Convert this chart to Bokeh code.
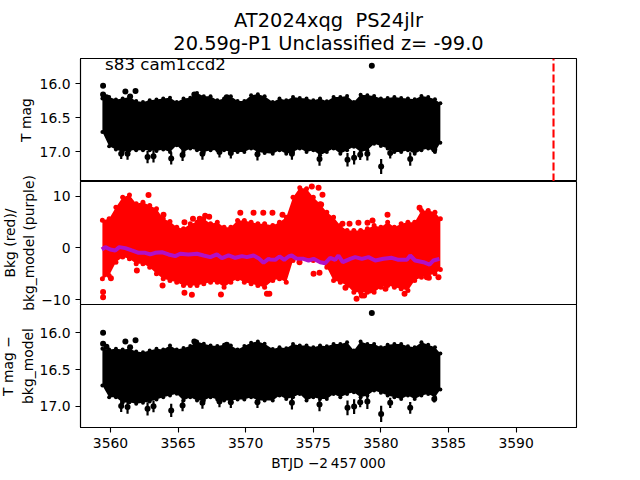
from bokeh.embed import file_html
from bokeh.resources import INLINE
from bokeh.plotting import figure
from bokeh.layouts import column
from bokeh.models import Range1d, FixedTicker, Title
from bokeh.core.properties import value

TITLE_LINES = ["AT2024xqg \u00a0PS24jlr", "20.59g-P1 Unclassified z= -99.0"]
NOTE = "s83 cam1ccd2"
XLABEL = "BTJD \u22122\u2009457\u2009000"
X_TICKS = [3560, 3565, 3570, 3575, 3580, 3585, 3590]
EVENT_DAY = 3592.77

DAYS = [3559.4, 3559.9, 3560.4, 3560.9, 3561.4, 3561.9, 3562.4, 3562.9, 3563.4, 3563.9,
        3564.4, 3564.9, 3565.4, 3565.9, 3566.4, 3566.9, 3567.4, 3567.9, 3568.4, 3568.9,
        3569.4, 3569.9, 3570.4, 3570.9, 3571.4,
        3572.0, 3572.5, 3573.0, 3573.5, 3574.0, 3574.5, 3575.0, 3575.5, 3576.0, 3576.5,
        3577.0, 3577.5, 3578.0, 3578.5, 3579.0, 3579.5, 3580.0, 3580.5, 3581.0, 3581.5,
        3582.0, 3582.5, 3583.0, 3583.5, 3584.0, 3584.4]

# --- top panel: T mag, extent of the dense error bars
TMAG_UPPER = [16.22, 16.196, 16.235, 16.22, 16.196, 16.255, 16.27, 16.245, 16.235, 16.22,
              16.206, 16.27, 16.22, 16.206, 16.137, 16.186, 16.186, 16.245, 16.22, 16.186,
              16.255, 16.255, 16.17, 16.157, 16.186,
              16.27, 16.22, 16.246, 16.197, 16.21, 16.22, 16.246, 16.22, 16.26, 16.197,
              16.197, 16.18, 16.27, 16.162, 16.172, 16.18, 16.22, 16.21, 16.197, 16.21,
              16.22, 16.23, 16.18, 16.197, 16.23, 16.29]
TMAG_LOWER = [16.71, 16.92, 16.97, 17.005, 16.98, 16.98, 16.98, 16.98, 16.99, 16.97,
              17.005, 16.907, 17.005, 16.956, 16.98, 17.005, 16.98, 16.98, 16.98, 17.005,
              17.005, 17.005, 16.956, 17.005, 17.02,
              17.03, 16.98, 17.03, 17.005, 16.956, 17.005, 16.98, 17.055, 17.005, 16.956,
              17.03, 16.98, 16.93, 17.005, 16.98, 16.883, 16.917, 16.956, 17.005, 17.005,
              16.98, 17.03, 16.98, 16.956, 17.005, 16.87]
# points standing clear of the dense band
OUT_DAYS = [3559.45, 3559.45, 3559.7, 3561.1, 3561.45, 3561.85, 3566.2, 3568.6,
            3560.79, 3561.26, 3562.74, 3563.18, 3564.49, 3565.33, 3566.8, 3568.06, 3568.9, 3570.87,
            3573.42, 3575.46, 3577.53, 3578.02, 3578.47, 3579.0, 3580.02, 3580.69, 3582.17, 3583.95,
            3579.33]
TMAG_OUT = [16.03, 16.16, 16.2, 16.115, 16.19, 16.11, 16.16, 16.2,
            17.03, 17.03, 17.08, 17.07, 17.10, 17.05, 17.03, 17.005, 17.02, 17.04,
            17.03, 17.11, 17.12, 17.09, 17.045, 17.03, 17.22, 17.02, 17.11, 16.97,
            15.735]
TMAG_ERR = [0.03, 0.03, 0.03, 0.03, 0.03, 0.03, 0.03, 0.03,
            0.08, 0.09, 0.09, 0.09, 0.09, 0.09, 0.09, 0.08, 0.08, 0.09,
            0.09, 0.10, 0.10, 0.10, 0.08, 0.10, 0.11, 0.08, 0.10, 0.05,
            0.02]

# --- middle panel
BKG_UPPER = [5.3, 5.6, 7.85, 9.78, 10.2, 8.49, 8.81, 8.17, 7.53, 5.6,
             5.08, 3.99, 3.66, 4.63, 4.95, 5.6, 4.63, 4.95, 3.99, 3.99,
             5.28, 5.28, 4.95, 4.63, 4.63,
             4.3, 4.95, 5.91, 9.77, 11.57, 11.38, 9.77, 8.49, 6.88, 5.91,
             4.3, 3.34, 3.34, 3.34, 3.66, 4.3, 3.98, 4.95, 3.98, 4.62,
             4.95, 4.95, 7.2, 7.2, 6.88, 5.6]
BKG_LOWER = [-5.99, -5.34, -2.77, -1.8, -2.13, -3.09, -3.09, -3.74, -5.02, -5.99,
             -6.31, -6.63, -7.27, -7.27, -7.27, -6.95, -6.63, -6.63, -7.6, -6.63,
             -5.99, -6.63, -6.95, -7.27, -7.6,
             -6.32, -5.99, -6.64, -2.45, -2.13, -1.94, -2.45, -2.45, -3.74, -6.32,
             -6.64, -7.28, -8.57, -8.57, -8.57, -8.57, -7.6, -7.28, -7.6, -7.92,
             -8.25, -6.32, -5.67, -5.35, -5.03, -4.2]
BKG_OUT_DAYS = [3562.81, 3563.92, 3565.47, 3566.1, 3566.6, 3567.3, 3567.0, 3569.6, 3570.58, 3571.3, 3571.98,
                3559.45, 3559.45, 3560.03, 3561.95, 3563.85, 3565.47, 3566.02, 3568.17, 3571.57, 3571.75,
                3572.72, 3574.89, 3575.39, 3575.68, 3575.58, 3575.02, 3575.46, 3573.98, 3580.49, 3582.86,
                3577.68, 3578.34, 3579.01, 3579.38, 3577.16, 3577.38, 3578.2, 3578.59, 3578.76, 3579.2,
                3580.34, 3581.75, 3583.4, 3583.55, 3584.26]
BKG_OUT = [10.2, 6.37, 4.95, 5.6, 5.6, 6.0, 6.2, 6.75, 6.75, 6.75, 6.75,
           -8.56, -9.53, -5.86, -4.38, -7.27, -8.69, -9.08, -9.01, -8.88, -8.88,
           6.36, 11.83, 11.57, 10.22, 8.36, -5.03, -4.84, -2.78, 6.36, 7.71,
           4.62, 4.82, 4.82, 5.27, 4.62, -7.73, -9.85, -9.21, -9.21, -8.25,
           -7.92, -8.89, -5.67, -5.8, -5.67]
MODEL_DAYS = [3559.36, 3559.61, 3559.98, 3560.35, 3560.65, 3561.09, 3561.58, 3562.08, 3562.57, 3562.94,
              3563.31, 3563.8, 3564.29, 3564.79, 3565.16, 3565.77, 3566.39, 3566.88, 3567.38, 3567.87,
              3568.24, 3568.73, 3569.23, 3569.72, 3570.09, 3570.58, 3570.95, 3571.32, 3571.69, 3571.81,
              3572.18, 3572.5, 3572.85, 3573.17, 3573.41, 3573.73, 3574.28, 3574.65, 3575.02, 3575.51,
              3575.88, 3576.25, 3576.62, 3576.86, 3577.18, 3577.73, 3578.1, 3578.59, 3579.08, 3579.58,
              3580.19, 3580.81, 3581.3, 3581.92, 3582.17, 3582.53, 3583.15, 3583.6, 3583.89, 3584.33]
MODEL = [-0.33, 0.13, -0.33, -0.52, 0.13, -0.07, -0.52, -0.97, -0.97, -1.29,
         -0.97, -0.84, -1.29, -1.61, -1.16, -1.29, -1.16, -1.48, -1.8, -1.29,
         -2.0, -1.48, -1.93, -1.61, -1.8, -1.48, -2.0, -2.9, -2.13, -2.26,
         -2.33, -1.68, -2.33, -1.68, -1.49, -2.07, -2.13, -2.45, -2.13, -2.78,
         -2.97, -1.94, -2.33, -1.49, -2.78, -2.13, -1.81, -2.13, -1.81, -2.45,
         -2.13, -1.94, -2.33, -2.33, -1.49, -2.45, -2.78, -3.23, -2.45, -2.13]

# --- bottom panel
CORR_UPPER = [16.217, 16.227, 16.217, 16.227, 16.217, 16.254, 16.263, 16.24, 16.217, 16.227,
              16.172, 16.227, 16.208, 16.181, 16.118, 16.149, 16.172, 16.181, 16.163, 16.172,
              16.227, 16.181, 16.136, 16.118, 16.149,
              16.219, 16.196, 16.21, 16.151, 16.173, 16.173, 16.196, 16.173, 16.182, 16.151,
              16.151, 16.128, 16.241, 16.119, 16.151, 16.151, 16.196, 16.164, 16.151, 16.151,
              16.182, 16.196, 16.128, 16.164, 16.196, 16.28]
CORR_LOWER = [16.716, 16.875, 16.875, 16.952, 16.943, 16.966, 16.952, 16.934, 16.907, 16.875,
              16.852, 16.83, 16.92, 16.875, 16.92, 16.92, 16.875, 16.907, 16.92, 16.92,
              16.907, 16.907, 16.875, 16.92, 16.92,
              16.921, 16.853, 16.899, 16.876, 16.831, 16.921, 16.876, 16.899, 16.899, 16.831,
              16.876, 16.831, 16.808, 16.876, 16.853, 16.785, 16.817, 16.853, 16.876, 16.899,
              16.853, 16.899, 16.853, 16.831, 16.876, 16.77]
CORR_OUT = [16.0, 16.149, 16.19, 16.118, 16.195, 16.1, 16.118, 16.163,
            16.997, 17.01, 17.034, 17.0, 17.056, 16.988, 16.952, 16.934, 16.943, 16.943,
            16.953, 16.976, 17.021, 17.003, 16.944, 16.935, 17.103, 16.953, 17.021, 16.899,
            15.729]
CORR_ERR = [0.03, 0.03, 0.03, 0.03, 0.03, 0.03, 0.03, 0.03,
            0.08, 0.09, 0.09, 0.08, 0.09, 0.08, 0.08, 0.08, 0.08, 0.08,
            0.09, 0.09, 0.10, 0.10, 0.07, 0.10, 0.11, 0.07, 0.08, 0.05,
            0.02]

FONT = "DejaVu Sans"
TICK_PT = "13.9px"
X_RANGE = (3557.78, 3594.47)
Y_TOP = (17.44, 15.63)
Y_MID = (-10.95, 12.8)
Y_BOT = (17.288, 15.615)


def panel(height, yr, yticks, ylabel, standoff, overrides, top=0, bottom=0):
    p = figure(width=638, height=height, output_backend="svg", toolbar_location=None,
               x_range=Range1d(*X_RANGE), y_range=Range1d(*yr),
               min_border_left=84, min_border_right=54,
               min_border_top=top, min_border_bottom=bottom)
    p.grid.visible = False
    p.outline_line_color = "black"
    p.outline_line_width = 1.1
    p.background_fill_color = None
    p.border_fill_color = None
    for ax in (p.xaxis[0], p.yaxis[0]):
        ax.major_tick_out = 5
        ax.major_tick_in = 0
        ax.minor_tick_out = 0
        ax.minor_tick_in = 0
        ax.major_tick_line_width = 1.1
        ax.axis_line_width = 1.1
        ax.major_label_text_font = FONT
        ax.major_label_text_font_size = TICK_PT
        ax.major_label_text_color = "black"
        ax.major_label_standoff = 5
        ax.axis_label_text_font = FONT
        ax.axis_label_text_font_size = TICK_PT
        ax.axis_label_text_font_style = "normal"
        ax.axis_label_text_color = "black"
    p.yaxis[0].ticker = FixedTicker(ticks=yticks)
    p.yaxis[0].major_label_overrides = overrides
    p.yaxis[0].axis_label = ylabel
    p.yaxis[0].axis_label_standoff = standoff
    p.xaxis[0].ticker = FixedTicker(ticks=X_TICKS)
    p.xaxis[0].major_label_overrides = {t: str(t) for t in X_TICKS}
    return p


def lightcurve(p, upper, lower, out, err):
    p.varea(DAYS, upper, lower, color="black")
    p.segment(OUT_DAYS, [m - e for m, e in zip(out, err)], OUT_DAYS, [m + e for m, e in zip(out, err)],
              line_color="black", line_width=2.2)
    p.scatter(OUT_DAYS, out, size=6, color="black", line_width=0)
    p.scatter(DAYS, upper, size=4, color="black", line_width=0)
    p.scatter(DAYS, lower, size=4, color="black", line_width=0)


top = panel(181, Y_TOP, [16, 16.5, 17], "T mag", 3, {16: "16.0", 16.5: "16.5", 17: "17.0"}, top=58)
top.xaxis.visible = False
top.add_layout(Title(text=" ", text_font_size="3px", standoff=0), "above")
for line, gap in zip(reversed(TITLE_LINES), (-3, 0)):
    top.add_layout(Title(text=line, align="center", text_font=FONT, text_font_size="19.4px",
                         text_font_style="normal", text_color="black", standoff=gap), "above")
lightcurve(top, TMAG_UPPER, TMAG_LOWER, TMAG_OUT, TMAG_ERR)
top.line([EVENT_DAY, EVENT_DAY], [Y_TOP[0], Y_TOP[1]], line_color="red", line_width=2.1, line_dash="8 3")
top.text([3559.6], [15.715], text=[NOTE], text_font=value(FONT), text_font_size="16.67px",
         text_color="black", text_baseline="alphabetic", text_align="left")

mid = panel(139, Y_MID, [-10, 0, 10], "Bkg (red)/\nbkg_model (purple)", 1,
            {-10: "\u221210", 0: "0", 10: "10"}, top=8, bottom=8)
mid.xaxis.visible = False
mid.varea(DAYS, BKG_UPPER, BKG_LOWER, color="red")
mid.scatter(DAYS, BKG_UPPER, size=5, color="red", line_width=0)
mid.scatter(DAYS, BKG_LOWER, size=5, color="red", line_width=0)
mid.scatter(BKG_OUT_DAYS, BKG_OUT, size=6, color="red", line_width=0)
mid.line(MODEL_DAYS, MODEL, line_color="#b010c8", line_width=4)

bot = panel(173, Y_BOT, [16, 16.5, 17], "T mag \u2212\nbkg_model", 1,
            {16: "16.0", 16.5: "16.5", 17: "17.0"}, bottom=50)
bot.xaxis[0].axis_label = XLABEL
bot.xaxis[0].axis_label_standoff = 4
bot.xaxis[0].axis_label_text_font_size = "13.7px"
lightcurve(bot, CORR_UPPER, CORR_LOWER, CORR_OUT, CORR_ERR)

top.margin = (0, 0, 0, -4)
mid.margin = (-8, 0, -8, -4)
bot.margin = (0, 0, 0, -4)
page = column(top, mid, bot, spacing=0)
open("out.html", "w").write(file_html(page, INLINE))
